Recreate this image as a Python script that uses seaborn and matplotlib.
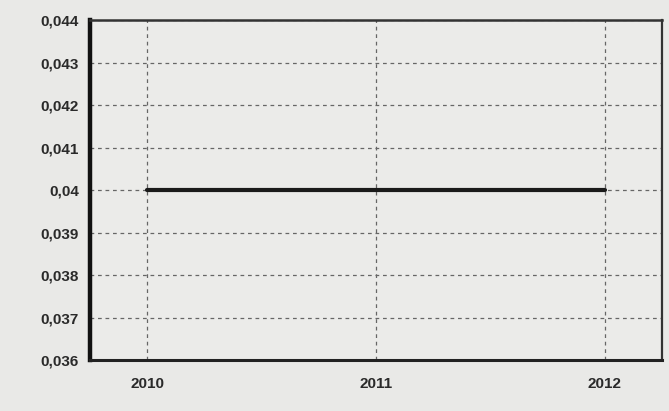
import matplotlib
matplotlib.use("Agg")
import matplotlib.pyplot as plt
import seaborn as sns
import pandas as pd
from matplotlib.ticker import FixedLocator, FuncFormatter

years = [2010, 2011, 2012]
values = [0.04, 0.04, 0.04]
y_ticks = [0.036, 0.037, 0.038, 0.039, 0.040, 0.041, 0.042, 0.043, 0.044]
y_labels = ["0,036", "0,037", "0,038", "0,039", "0,04", "0,041", "0,042", "0,043", "0,044"]

sns.set_style("white")
plt.rcParams["font.family"] = ["Liberation Sans", "DejaVu Sans"]

bg = "#e9e9e7"
fig = plt.figure(figsize=(6.69, 4.11), dpi=100, facecolor=bg)
ax = fig.add_axes([0.1345, 0.124, 0.855, 0.827])
ax.set_facecolor("#ebebe9")

df = pd.DataFrame({"year": years, "value": values})
sns.lineplot(data=df, x="year", y="value", ax=ax, color="#1a1a1a", linewidth=3.0)

ax.set_xlim(2009.75, 2012.25)
ax.set_ylim(0.036, 0.044)
ax.xaxis.set_major_locator(FixedLocator(years))
ax.xaxis.set_major_formatter(FuncFormatter(lambda v, p: f"{int(round(v))}"))
ax.yaxis.set_major_locator(FixedLocator(y_ticks))
ax.set_yticklabels(y_labels)

ax.grid(True, linestyle=(0, (3, 3)), color="#666666", linewidth=0.9)
ax.set_xlabel("")
ax.set_ylabel("")

ax.spines["left"].set_linewidth(3.2)
ax.spines["left"].set_color("#111111")
ax.spines["bottom"].set_linewidth(2.2)
ax.spines["bottom"].set_color("#222222")
ax.spines["top"].set_linewidth(1.8)
ax.spines["top"].set_color("#333333")
ax.spines["right"].set_linewidth(1.6)
ax.spines["right"].set_color("#333333")

ax.tick_params(axis="y", which="both", length=3, color="#777777",
               labelsize=11, labelcolor="#2a2a2a", pad=5)
ax.tick_params(axis="x", which="both", length=3, color="#777777",
               labelsize=11, labelcolor="#2a2a2a", pad=9)
for lbl in ax.get_xticklabels() + ax.get_yticklabels():
    lbl.set_fontweight("semibold")

fig.savefig("out.png", dpi=100, facecolor=bg)
